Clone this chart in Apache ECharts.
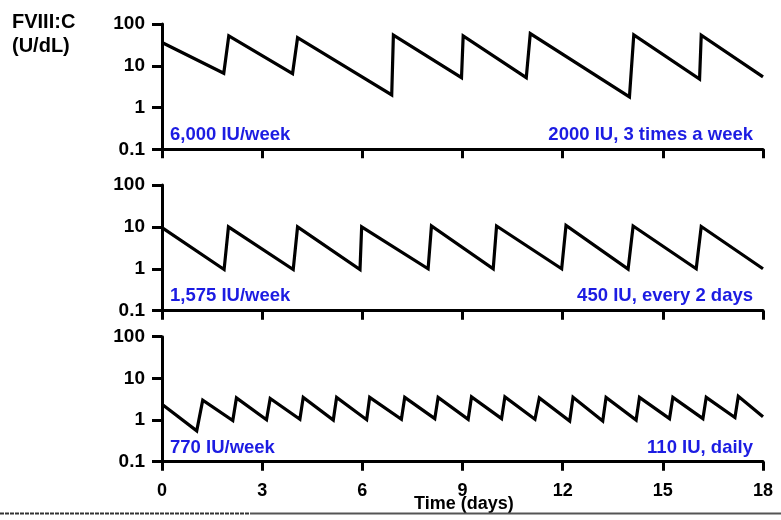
<!DOCTYPE html>
<html>
<head>
<meta charset="utf-8">
<script src="https://cdn.jsdelivr.net/npm/echarts@6/dist/echarts.min.js"></script>
<style>html,body{margin:0;padding:0;background:#fff;}#c{width:781px;height:520px;}</style>
</head>
<body>
<div id="c"></div>
<script>
// ---- data ----
var xTicks = [0, 3, 6, 9, 12, 15, 18];
var yTickLabels = ['0.1', '1', '10', '100'];

// Panel 1: 2000 IU, 3 times a week
var days1 = [0, 1.85, 2.0, 3.91, 4.06, 6.88, 6.93, 8.97, 9.02, 10.91, 11.03, 14.0, 14.13, 16.1, 16.15, 18];
var vals1 = [36, 6.6, 52, 6.5, 47, 2.0, 54, 5.2, 52, 5.2, 59, 1.8, 55, 4.8, 54, 5.4];

// Panel 2: 450 IU, every 2 days
var days2 = [0, 1.86, 1.99, 3.93, 4.06, 5.93, 5.98, 7.97, 8.07, 9.92, 10.02, 11.97, 12.1, 13.96, 14.11, 16.0, 16.15, 18];
var vals2 = [9.6, 0.96, 10, 0.96, 10, 0.96, 10, 1.0, 10.5, 1.0, 10.5, 1.0, 10.8, 0.98, 10.5, 1.0, 10.2, 1.0];

// Panel 3: 110 IU, daily
var days3 = [0, 1.04, 1.22, 2.12, 2.23, 3.13, 3.24, 4.13, 4.23, 5.13, 5.23, 6.13, 6.22,
             7.17, 7.27, 8.17, 8.27, 9.17, 9.27, 10.17, 10.27, 11.17, 11.3, 12.21, 12.31,
             13.2, 13.3, 14.2, 14.3, 15.2, 15.3, 16.2, 16.3, 17.16, 17.26, 18];
var vals3 = [2.4, 0.55, 3.0, 0.97, 3.4, 1.02, 3.3, 1.04, 3.5, 1.0, 3.5, 1.02, 3.5,
             1.04, 3.5, 1.08, 3.5, 1.04, 3.6, 1.08, 3.6, 1.04, 3.4, 0.95, 3.5,
             0.95, 3.5, 1.0, 3.5, 1.08, 3.5, 1.08, 3.5, 1.15, 3.7, 1.2];

var leftNotes = ['6,000 IU/week', '1,575 IU/week', '770 IU/week'];
var rightNotes = ['2000 IU, 3 times a week', '450 IU, every 2 days', '110 IU, daily'];
var yTitle = ['FVIII:C', '(U/dL)'];
var xTitle = 'Time (days)';

function pairs(xs, ys) { return xs.map(function (x, i) { return [x, ys[i]]; }); }

var FONT = 'Liberation Sans, Arial, sans-serif';
var BLUE = '#1c1ce2';
var grids = [
  { left: 162, right: 18, top: 24, height: 125.3 },
  { left: 162, right: 18, top: 185, height: 125.7 },
  { left: 162, right: 18, top: 336.7, height: 125 }
];
var noteY = [135, 296, 448];

var xAxes = [], yAxes = [], series = [];
var allDays = [days1, days2, days3], allVals = [vals1, vals2, vals3];
for (var i = 0; i < 3; i++) {
  xAxes.push({
    type: 'value', gridIndex: i, min: 0, max: 18, interval: 3,
    axisLine: { show: true, onZero: false, lineStyle: { color: '#000', width: 3 } },
    axisTick: { show: true, length: 9, lineStyle: { color: '#000', width: 3 } },
    axisLabel: {
      show: i === 2, margin: 20, color: '#000', fontSize: 18, fontWeight: 'bold', fontFamily: FONT,
      formatter: function (v) { return xTicks.indexOf(v) >= 0 ? String(v) : ''; }
    },
    splitLine: { show: false }
  });
  yAxes.push({
    type: 'log', logBase: 10, gridIndex: i, min: 0.1, max: 100,
    axisLine: { show: true, lineStyle: { color: '#000', width: 3 } },
    axisTick: { show: true, length: 10, lineStyle: { color: '#000', width: 3 } },
    axisLabel: {
      margin: 17, color: '#000', fontSize: 19, fontWeight: 'bold', fontFamily: FONT,
      formatter: function (v) {
        var e = Math.round(Math.log(v) / Math.LN10);
        return yTickLabels[e + 1] || '';
      }
    },
    splitLine: { show: false },
    minorTick: { show: false }
  });
  series.push({
    type: 'line', xAxisIndex: i, yAxisIndex: i,
    data: pairs(allDays[i], allVals[i]),
    showSymbol: false, symbol: 'none', smooth: false,
    lineStyle: { color: '#000', width: 3.2, join: 'miter' },
    animation: false
  });
}

var graphic = [];
for (var j = 0; j < 3; j++) {
  graphic.push({
    type: 'text', left: 170, top: noteY[j] - 10,
    style: { text: leftNotes[j], fill: BLUE, font: 'bold 18.5px ' + FONT }
  });
  graphic.push({
    type: 'text', right: 28, top: noteY[j] - 10,
    style: { text: rightNotes[j], fill: BLUE, font: 'bold 18.5px ' + FONT }
  });
}
graphic.push({ type: 'text', left: 12, top: 12, style: { text: yTitle[0], fill: '#000', font: 'bold 20px ' + FONT } });
graphic.push({ type: 'text', left: 12, top: 36, style: { text: yTitle[1], fill: '#000', font: 'bold 20px ' + FONT } });
graphic.push({ type: 'text', left: 414, top: 495, style: { text: xTitle, fill: '#000', font: 'bold 18px ' + FONT } });
graphic.push({ type: 'line', shape: { x1: 0, y1: 513.5, x2: 250, y2: 513.5 }, style: { stroke: '#333', lineWidth: 2, lineDash: [4, 1] }, z: 10 });
graphic.push({ type: 'line', shape: { x1: 250, y1: 513.5, x2: 781, y2: 513.5 }, style: { stroke: '#555', lineWidth: 2 }, z: 10 });

var chart = echarts.init(document.getElementById('c'), null, { renderer: 'canvas' });
chart.setOption({
  animation: false,
  backgroundColor: '#fff',
  grid: grids,
  xAxis: xAxes,
  yAxis: yAxes,
  series: series,
  graphic: graphic
});
</script>
</body>
</html>
